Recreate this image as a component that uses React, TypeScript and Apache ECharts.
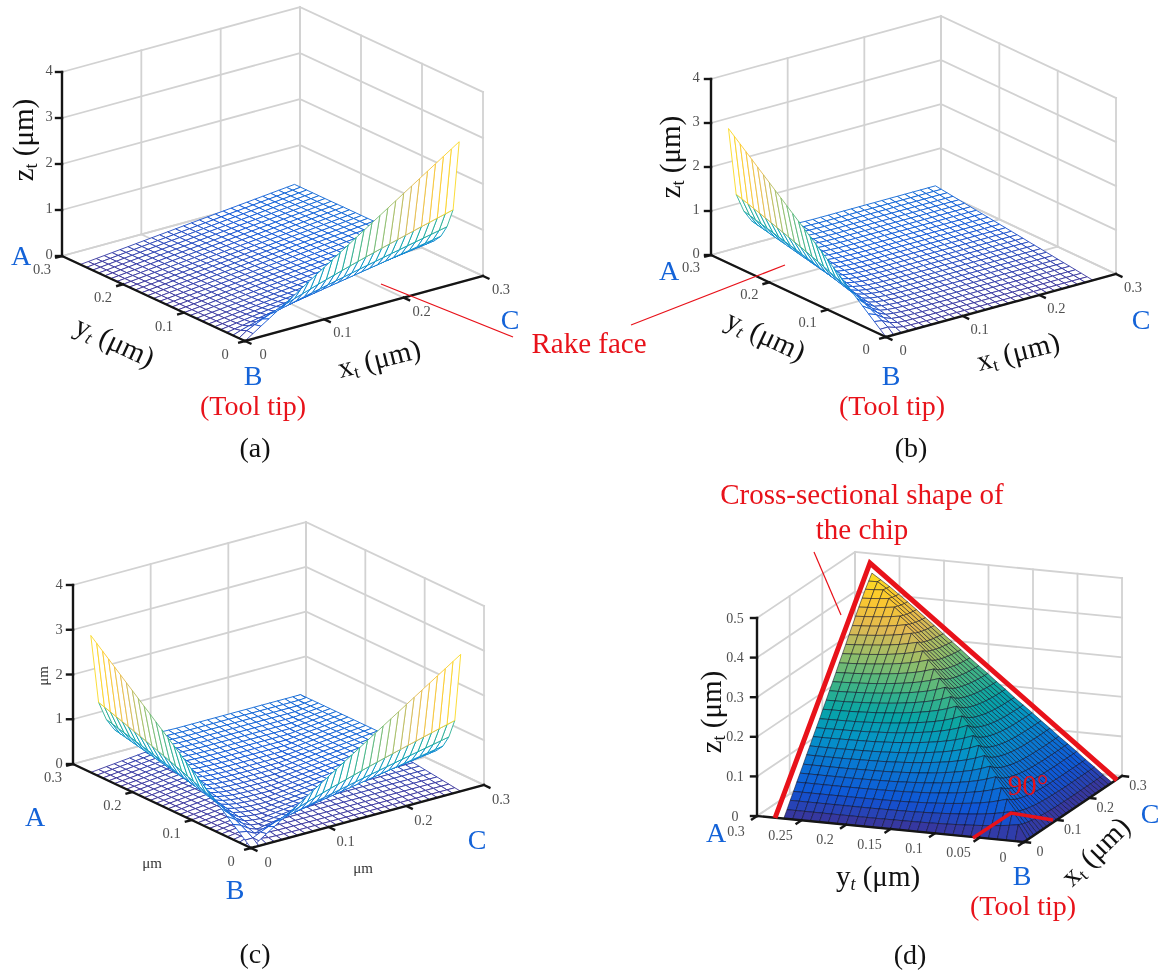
import React, { useEffect, useRef } from "react";
import * as echarts from "echarts";

// ---------- values ----------
const meshSteps = [0, .01, .02, .03, .04, .05, .06, .07, .08, .09, .1, .11, .12, .13, .14, .15, .16, .17, .18, .19, .2, .21, .22, .23, .24, .25, .26, .27];
// rake-face height (µm) along the cutting edge, for the first three rows next to the edge
const spikeTop = [0, .113, .227, .34, .453, .567, .68, .793, .907, 1.02, 1.133, 1.247, 1.36, 1.473, 1.587, 1.7, 1.813, 1.927, 2.04, 2.153, 2.267, 2.38, 2.493, 2.607, 2.72, 2.833, 2.947, 3.06];
const spikeMid = [0, .116, .199, .274, .342, .407, .47, .53, .588, .644, .701, .754, .807, .859, .91, .961, 1.011, 1.059, 1.108, 1.155, 1.202, 1.249, 1.295, 1.342, 1.386, 1.432, 1.476, 1.52];
const spikeLow = [0, .06, .11, .157, .203, .247, .291, .332, .374, .414, .455, .494, .534, .573, .611, .65, .688, .726, .763, .8, .837, .873, .91, .946, .982, 1.018, 1.054, 1.09];
// the nearly flat part of the rake face
const planeByX = [0, .017, .035, .052, .07, .087, .104, .122, .139, .157, .174, .191, .209, .226, .244, .261, .278, .296, .313, .33, .348, .365, .383, .4, .417, .435, .452, .47];
const rowLift = [1, 1, 1, 1.75, 1.42, 1.24, 1.13, 1.07, 1.04, 1.02, 1.01, 1, 1, 1, 1, 1, 1, 1, 1, 1, 1, 1, 1, 1, 1, 1, 1, 1];
// chip surface of panel (d): height on the ridge x = y, and how much of it remains away from the ridge
const chipRidge = [0, .036, .062, .085, .106, .126, .145, .164, .182, .199, .217, .233, .25, .266, .282, .297, .313, .328, .343, .357, .372, .386, .4, .415, .429, .443, .456, .47];
const chipRidgeShare = [1, .8, .64, .52, .42, .34, .27, .21, .16, .12, .09, .06, .04, .03, .02, .01, 0, 0, 0, 0, 0, 0, 0, 0, 0, 0, 0, 0];

const xyTicks = [0, .1, .2, .3];
const xyTickLabels = ["0", "0.1", "0.2", "0.3"];
const zTicksMain = [0, 1, 2, 3, 4];
const zLabelsMain = ["0", "1", "2", "3", "4"];
const yTicksChip = [0, .05, .1, .15, .2, .25, .3];
const yLabelsChip = ["0", "0.05", "0.1", "0.15", "0.2", "0.25", "0.3"];
const zTicksChip = [0, .1, .2, .3, .4, .5];
const zLabelsChip = ["0", "0.1", "0.2", "0.3", "0.4", "0.5"];
const parulaStops: [number, number[]][] = [
  [0, [62, 50, 150]], [.1, [15, 85, 215]], [.2, [10, 115, 212]], [.3, [5, 148, 200]], [.4, [8, 165, 165]],
  [.5, [70, 182, 130]], [.6, [150, 190, 105]], [.7, [225, 185, 82]], [.8, [252, 200, 46]], [1, [249, 251, 14]],
];

// ---------- layout of the four panels ----------
type P = { O: number[]; ex: number[]; ey: number[]; ez: number[]; zMax: number; zt: number[]; zl: string[]; yt: number[]; yl: string[];
  zOff: number[]; yOff: number[]; xOff: number[] };
const pa: P = { O: [245, 341], ex: [238, -65], ey: [-183, -85], ez: [0, -184], zMax: 4, zt: zTicksMain, zl: zLabelsMain, yt: xyTicks, yl: xyTickLabels, zOff: [-13, -2], yOff: [-20, 13], xOff: [18, 13] };
const pb: P = { O: [886, 337], ex: [230, -63], ey: [-175, -82], ez: [0, -176], zMax: 4, zt: zTicksMain, zl: zLabelsMain, yt: xyTicks, yl: xyTickLabels, zOff: [-15, -2], yOff: [-20, 12], xOff: [17, 13] };
const pc: P = { O: [251, 848], ex: [233, -63], ey: [-178, -84], ez: [0, -179], zMax: 4, zt: zTicksMain, zl: zLabelsMain, yt: xyTicks, yl: xyTickLabels, zOff: [-14, -1], yOff: [-20, 13], xOff: [17, 14] };
const pd: P = { O: [1024, 842], ex: [98, -66], ey: [-267, -26], ez: [0, -198], zMax: .5, zt: zTicksChip, zl: zLabelsChip, yt: yTicksChip, yl: yLabelsChip, zOff: [-22, 0], yOff: [-21, 15], xOff: [16, 9] };

const proj = (p: P, x: number, y: number, z: number) => [
  p.O[0] + p.ex[0] * x / .3 + p.ey[0] * y / .3 + p.ez[0] * z / p.zMax,
  p.O[1] + p.ex[1] * x / .3 + p.ey[1] * y / .3 + p.ez[1] * z / p.zMax,
];
const depth = (p: P, x: number, y: number, z: number) => {
  const b = p.ex[0] / -p.ey[0];
  const c = -(p.ex[1] + b * p.ey[1]) / p.ez[1];
  return x / .3 + b * y / .3 + c * z / p.zMax;
};

const rakeZ = (i: number, j: number) =>
  j === 0 ? spikeTop[i] : j === 1 ? spikeMid[i] : j === 2 ? spikeLow[i] : planeByX[i] * rowLift[j];
const rakeMirrorZ = (i: number, j: number) => rakeZ(j, i);
const chipZ = (i: number, j: number) => {
  const lo = Math.min(i, j), hi = Math.max(i, j);
  return planeByX[lo] + (chipRidge[lo] - planeByX[lo]) * chipRidgeShare[hi - lo];
};

function quads(p: P, zf: (i: number, j: number) => number) {
  const out: { row: number[]; k: number }[] = [];
  for (let i = 0; i < meshSteps.length - 1; i++) for (let j = 0; j < meshSteps.length - 1; j++) {
    const c = [[i, j], [i + 1, j], [i + 1, j + 1], [i, j + 1]];
    const zs = c.map(([a, b]) => zf(a, b));
    const pts = c.flatMap(([a, b], n) => proj(p, meshSteps[a], meshSteps[b], zs[n]));
    const mean = (zs[0] + zs[1] + zs[2] + zs[3]) / 4;
    out.push({ row: [...pts, (Math.max(...zs) + mean) / 2, mean], k: depth(p, (meshSteps[i] + meshSteps[i + 1]) / 2, (meshSteps[j] + meshSteps[j + 1]) / 2, mean) });
  }
  return out;
}
const sorted = (list: { row: number[]; k: number }[]) => list.sort((u, v) => v.k - u.k).map((q) => q.row);

function parula(t: number) {
  const v = Math.max(0, Math.min(1, t));
  for (let n = 1; n < parulaStops.length; n++) {
    if (v <= parulaStops[n][0]) {
      const [a, ca] = parulaStops[n - 1], [b, cb] = parulaStops[n];
      const f = (v - a) / (b - a);
      return `rgb(${ca.map((q, m) => Math.round(q + (cb[m] - q) * f)).join(",")})`;
    }
  }
  return "rgb(249,251,14)";
}

function gridLines(p: P) {
  const s: number[][] = [];
  const seg = (a: number[], b: number[]) => s.push([...proj(p, a[0], a[1], a[2]), ...proj(p, b[0], b[1], b[2])]);
  p.zt.forEach((z) => { seg([0, .3, z], [.3, .3, z]); seg([.3, .3, z], [.3, 0, z]); });
  xyTicks.forEach((x) => { seg([x, .3, 0], [x, .3, p.zMax]); seg([x, 0, 0], [x, .3, 0]); });
  p.yt.forEach((y) => { seg([.3, y, 0], [.3, y, p.zMax]); seg([0, y, 0], [.3, y, 0]); });
  return s;
}
function axisLines(p: P) {
  const s: number[][] = [];
  const unit = (v: number[]) => { const l = Math.hypot(v[0], v[1]); return [v[0] / l, v[1] / l]; };
  const ux = unit(p.ex), uy = unit(p.ey);
  const a0 = proj(p, 0, 0, 0), ax = proj(p, .3, 0, 0), ay = proj(p, 0, .3, 0), az = proj(p, 0, .3, p.zMax);
  s.push([...a0, ...ax], [...a0, ...ay], [...ay, ...az]);
  p.zt.forEach((z) => { const q = proj(p, 0, .3, z); s.push([q[0], q[1], q[0] - 6, q[1]]); });
  xyTicks.forEach((x) => { const q = proj(p, x, 0, 0); s.push([q[0], q[1], q[0] - uy[0] * 6, q[1] - uy[1] * 6]); });
  p.yt.forEach((y) => { const q = proj(p, 0, y, 0); s.push([q[0], q[1], q[0] - ux[0] * 6, q[1] - ux[1] * 6]); });
  return s;
}

const SERIF = '"Liberation Serif", "Times New Roman", serif';
const BLUE = "#1463d8", RED = "#e8121a", TICK = "#505050";
const txt = (text: string, x: number, y: number, size: number, fill: string, deg = 0) => ({
  type: "text", x, y, rotation: deg * Math.PI / 180, z: 100, silent: true,
  style: { text, fill, align: "center", verticalAlign: "middle", font: `${size}px ${SERIF}` },
});
const unitLabel = (letter: string, italic: boolean, x: number, y: number, deg: number) => ({
  type: "text", x, y, rotation: deg * Math.PI / 180, z: 100, silent: true,
  style: {
    text: `{a|${letter}}{s|t}{a| (μm)}`, align: "center", verticalAlign: "middle", fill: "#111",
    rich: {
      a: { fontFamily: SERIF, fontSize: 29, fill: "#111", fontStyle: "normal", lineHeight: 34 },
      s: { fontFamily: SERIF, fontSize: 18, fill: "#111", fontStyle: italic ? "italic" : "normal", verticalAlign: "bottom", lineHeight: 28 },
    },
  },
});
const tickTexts = (p: P, size = 14.5) => {
  const out: any[] = [];
  p.zt.forEach((z, n) => { const q = proj(p, 0, .3, z); out.push(txt(p.zl[n], q[0] + p.zOff[0], q[1] + p.zOff[1], size, TICK)); });
  p.yt.forEach((y, n) => { const q = proj(p, 0, y, 0); out.push(txt(p.yl[n], q[0] + p.yOff[0], q[1] + p.yOff[1], size, TICK)); });
  xyTicks.forEach((x, n) => { const q = proj(p, x, 0, 0); out.push(txt(xyTickLabels[n], q[0] + p.xOff[0], q[1] + p.xOff[1], size, TICK)); });
  return out;
};
const redLine = (pts: number[][], w: number) => ({
  type: "polyline", z: 99, silent: true, shape: { points: pts }, style: { stroke: RED, lineWidth: w, fill: "none", lineJoin: "miter" },
});

const lineSeries = (data: number[][], stroke: string, lineWidth: number) => ({
  type: "custom", coordinateSystem: "cartesian2d", silent: true, clip: false, progressive: 0, data, encode: { x: 0, y: 1 },
  renderItem: (_: any, api: any) => {
    const a = api.coord([api.value(0), api.value(1)]), b = api.coord([api.value(2), api.value(3)]);
    return { type: "line", shape: { x1: a[0], y1: a[1], x2: b[0], y2: b[1] }, style: { stroke, lineWidth, lineCap: "square" } };
  },
});
const meshSeries = (data: number[][]) => ({
  type: "custom", coordinateSystem: "cartesian2d", silent: true, clip: false, progressive: 0, data, encode: { x: 0, y: 1 },
  renderItem: (_: any, api: any) => {
    const points = [0, 2, 4, 6].map((n) => api.coord([api.value(n), api.value(n + 1)]));
    return { type: "polygon", shape: { points }, style: { fill: "#fff", stroke: parula(api.value(8) / 3.06), lineWidth: .9 } };
  },
});
const solidSeries = (data: number[][]) => ({
  type: "custom", coordinateSystem: "cartesian2d", silent: true, clip: false, progressive: 0, data, encode: { x: 0, y: 1 },
  renderItem: (_: any, api: any) => {
    const points = [0, 2, 4, 6].map((n) => api.coord([api.value(n), api.value(n + 1)]));
    return { type: "polygon", shape: { points }, style: { fill: parula(api.value(9) / .53), stroke: "rgba(10,10,30,0.65)", lineWidth: .8 } };
  },
});

export default function App() {
  const ref = useRef<HTMLDivElement>(null);
  useEffect(() => {
    document.body.style.margin = "0";
    const chart = echarts.init(ref.current!, null, { renderer: "svg" });
    const graphic: any[] = [
      ...tickTexts(pa), ...tickTexts(pb), ...tickTexts(pc), ...tickTexts(pd, 14),
      // panel (a)
      txt("A", 21, 255, 28, BLUE), txt("B", 253, 375, 28, BLUE), txt("C", 510, 319, 28, BLUE),
      txt("(Tool tip)", 253, 405, 28, RED), txt("(a)", 255, 447, 28, "#111"),
      unitLabel("z", false, 23, 140, 90), unitLabel("y", true, 115, 341, -25), unitLabel("x", false, 379, 358, 14),
      // panel (b)
      txt("A", 669, 270, 28, BLUE), txt("B", 891, 375, 28, BLUE), txt("C", 1141, 319, 28, BLUE),
      txt("(Tool tip)", 892, 405, 28, RED), txt("(b)", 911, 447, 28, "#111"),
      unitLabel("z", false, 670, 157, 90), unitLabel("y", true, 766, 335, -25), unitLabel("x", false, 1018, 351, 14),
      // panel (c)
      txt("A", 35, 816, 28, BLUE), txt("B", 235, 889, 28, BLUE), txt("C", 477, 839, 28, BLUE), txt("(c)", 255, 953, 28, "#111"),
      txt("μm", 43, 676, 15, "#333", 90), txt("μm", 152, 863, 15, "#333"), txt("μm", 363, 868, 15, "#333"),
      // panel (d)
      txt("A", 716, 832, 28, BLUE), txt("B", 1022, 875, 28, BLUE), txt("C", 1150, 813, 28, BLUE),
      txt("(Tool tip)", 1023, 905, 28, RED), txt("(d)", 910, 954, 28, "#111"),
      unitLabel("z", false, 711, 712, 90), unitLabel("y", true, 878, 876, 0), unitLabel("x", false, 1095, 851, 45),
      txt("Cross-sectional shape of", 862, 494, 29, RED), txt("the chip", 862, 529, 29, RED), txt("90°", 1028, 785, 29, RED),
      // rake face callout
      txt("Rake face", 589, 343, 29, RED),
      redLine([[381, 284], [513, 337]], 1.2), redLine([[785, 265], [631, 325]], 1.2), redLine([[814, 552], [841, 615]], 1.2),
      redLine([[775, 818], [870, 563], [1117, 780]], 5), redLine([[973, 838], [1011, 813], [1053, 820]], 3.5),
    ];
    chart.setOption({
      animation: false,
      backgroundColor: "#fff",
      grid: { left: 0, right: 0, top: 0, bottom: 0 },
      xAxis: { type: "value", min: 0, max: 1161, show: false },
      yAxis: { type: "value", min: 0, max: 971, inverse: true, show: false },
      graphic: { elements: graphic },
      series: [
        lineSeries([...gridLines(pa), ...gridLines(pb), ...gridLines(pc), ...gridLines(pd)], "#d2d2d2", 1.8),
        meshSeries(sorted(quads(pa, rakeZ))),
        meshSeries(sorted(quads(pb, rakeMirrorZ))),
        meshSeries(sorted([...quads(pc, rakeZ), ...quads(pc, rakeMirrorZ)])),
        solidSeries(sorted(quads(pd, chipZ))),
        lineSeries([...axisLines(pa), ...axisLines(pb), ...axisLines(pc), ...axisLines(pd)], "#151515", 2.4),
      ],
    });
    return () => chart.dispose();
  }, []);
  return <div ref={ref} style={{ width: 1161, height: 971, filter: "blur(0.45px)" }} />;
}
